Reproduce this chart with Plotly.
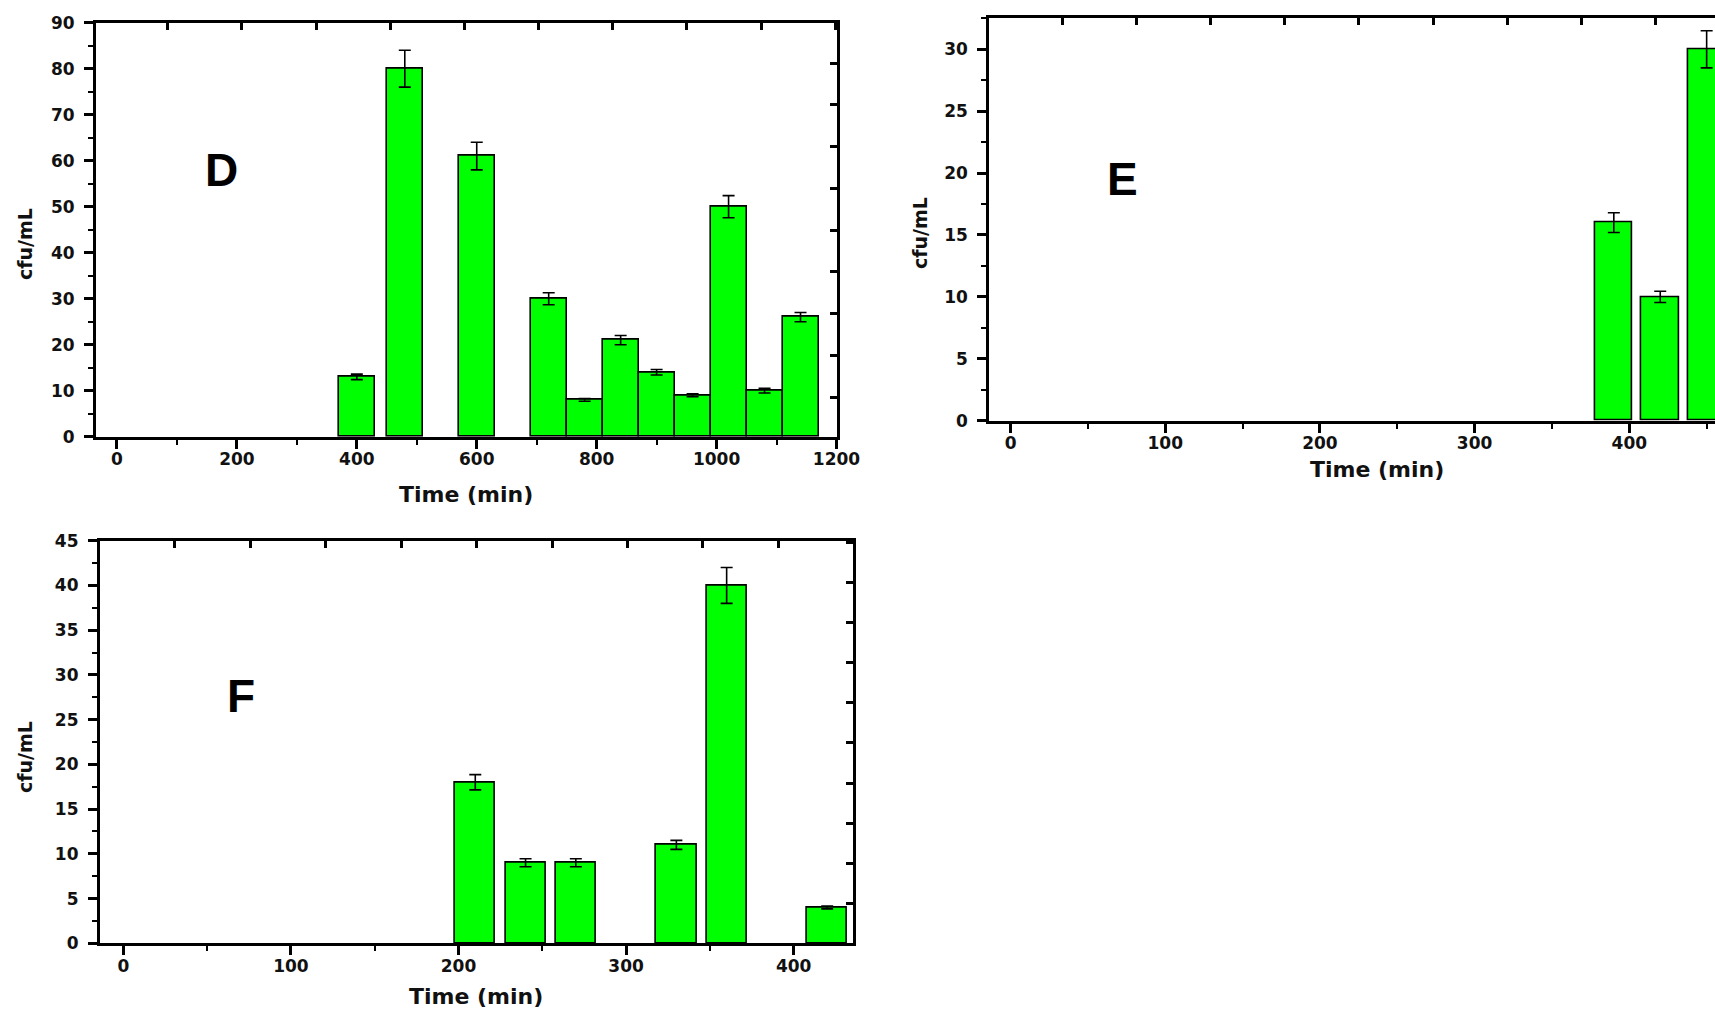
import plotly.graph_objects as go

W, H = 1715, 1009

# ---------------- data ----------------
# Panel D
d_time = [400, 480, 600, 720, 780, 840, 900, 960, 1020, 1080, 1140]
d_cfu = [13, 80, 61, 30, 8, 21, 14, 9, 50, 10, 26]
d_err = [0.6, 4, 3, 1.3, 0.3, 1.0, 0.6, 0.3, 2.4, 0.5, 1.0]

# Panel E
e_time = [390, 420, 450]
e_cfu = [16, 10, 30]
e_err = [0.8, 0.45, 1.5]

# Panel F
f_time = [210, 240, 270, 330, 360, 420]
f_cfu = [18, 9, 9, 11, 40, 4]
f_err = [0.85, 0.45, 0.45, 0.5, 2.0, 0.15]

x_title = "Time (min)"
y_title = "cfu/mL"
panel_labels = ["D", "E", "F"]

GREEN = "#00ff00"
TICKFONT = dict(family="DejaVu Sans", size=17, color="#111111", weight="bold")


def px_x(px):
    return px / W


def px_y(py):
    return 1 - py / H


def bar(x, y, err, width, xa, ya):
    return go.Bar(
        x=x, y=y, width=width,
        marker=dict(color=GREEN, line=dict(color="black", width=1.6)),
        error_y=dict(type="data", array=err, color="black", thickness=1.6, width=6),
        xaxis=xa, yaxis=ya, showlegend=False, hoverinfo="x+y",
    )


def main_axis(domain, rng, anchor, dtick, minor_dtick, side):
    d = dict(
        domain=domain, range=rng, anchor=anchor, side=side,
        showline=True, linecolor="black", linewidth=3,
        ticks="outside", ticklen=9, tickwidth=3, tickcolor="black",
        tick0=0, dtick=dtick,
        minor=dict(ticks="outside", ticklen=5, tickwidth=2, tickcolor="black", dtick=minor_dtick, tick0=0),
        tickfont=TICKFONT, showgrid=False, zeroline=False, fixedrange=True,
        automargin=False,
    )
    d["ticklabelstandoff"] = 6 if side == "left" else -4
    return d


def mirror_axis(over, rng, anchor, side, tick0, dtick, line=True):
    return dict(
        overlaying=over, range=rng, anchor=anchor, side=side,
        showline=line, linecolor="black", linewidth=3,
        ticks="inside" if line else "", ticklen=7, tickwidth=3, tickcolor="black",
        tick0=tick0, dtick=dtick, showticklabels=False,
        showgrid=False, zeroline=False, fixedrange=True, automargin=False,
    )


fig = go.Figure()
fig.add_trace(bar(d_time, d_cfu, d_err, 60, "x", "y"))
fig.add_trace(bar(e_time, e_cfu, e_err, 24, "x3", "y3"))
fig.add_trace(bar(f_time, f_cfu, f_err, 24, "x5", "y5"))
# empty traces so the mirror (top/right) axes get drawn
for xa, ya in [("x2", "y2"), ("x4", "y4"), ("x6", "y6")]:
    fig.add_trace(go.Scatter(x=[None], y=[None], xaxis=xa, yaxis=ya, showlegend=False, hoverinfo="skip"))

# Domains (pixels -> paper)
D_dom_x = [px_x(96), px_x(836.5)]
D_dom_y = [px_y(436.7), px_y(22.7)]
E_dom_x = [px_x(989.2), 1.0]
E_dom_y = [px_y(420.7), px_y(18.3)]
F_dom_x = [px_x(99.9), px_x(853)]
F_dom_y = [px_y(943.3), px_y(540.7)]

D_xr, D_yr = [-35, 1200], [0, 90]
E_xr, E_yr = [-13.8, 455.4], [0, 32.5]
F_xr, F_yr = [-14, 435.4], [0, 45]

fig.update_layout(
    template="none",
    width=W, height=H, autosize=False,
    margin=dict(l=0, r=0, t=0, b=0, pad=0),
    paper_bgcolor="white", plot_bgcolor="white",
    bargap=0,
    xaxis=main_axis(D_dom_x, D_xr, "y", 200, 100, "bottom"),
    yaxis=main_axis(D_dom_y, D_yr, "x", 10, 5, "left"),
    xaxis2=mirror_axis("x", D_xr, "y", "top", 84.6, 123.7),
    yaxis2=mirror_axis("y", D_yr, "x", "right", 8.6, 9.08),
    xaxis3=main_axis(E_dom_x, E_xr, "y3", 100, 50, "bottom"),
    yaxis3=main_axis(E_dom_y, E_yr, "x3", 5, 2.5, "left"),
    xaxis4=mirror_axis("x3", E_xr, "y3", "top", 33.6, 47.9),
    yaxis4=mirror_axis("y3", E_yr, "x3", "right", 0, 5, line=False),
    xaxis5=main_axis(F_dom_x, F_xr, "y5", 100, 50, "bottom"),
    yaxis5=main_axis(F_dom_y, F_yr, "x5", 5, 2.5, "left"),
    xaxis6=mirror_axis("x5", F_xr, "y5", "top", 30.8, 45),
    yaxis6=mirror_axis("y5", F_yr, "x5", "right", 4.47, 4.48),
)

TITLE_FONT = dict(family="DejaVu Sans", size=22, color="#111111", weight="bold")
YT_FONT = dict(family="DejaVu Sans", size=19, color="#111111", weight="bold")
LETTER_FONT = dict(family="Liberation Sans", size=46, color="black", weight="bold")

annos = []
for (cx, cy) in [(466, 495), (1377, 469), (476, 996)]:
    annos.append(dict(text=x_title, x=px_x(cx), y=px_y(cy), xref="paper", yref="paper",
                      xanchor="center", yanchor="middle", showarrow=False, font=TITLE_FONT))
for (cx, cy) in [(25, 244), (920, 233), (25, 757)]:
    annos.append(dict(text=y_title, x=px_x(cx), y=px_y(cy), xref="paper", yref="paper",
                      xanchor="center", yanchor="middle", showarrow=False, textangle=-90, font=YT_FONT))
for lab, (cx, cy) in zip(panel_labels, [(221.5, 169.5), (1122, 179), (241, 696)]):
    annos.append(dict(text=lab, x=px_x(cx), y=px_y(cy), xref="paper", yref="paper",
                      xanchor="center", yanchor="middle", showarrow=False, font=LETTER_FONT))
fig.update_layout(annotations=annos)

fig.write_html(
    "out.html",
    config={"displayModeBar": False},
    post_script="document.body.style.margin='0';document.body.style.overflow='hidden';",
)
